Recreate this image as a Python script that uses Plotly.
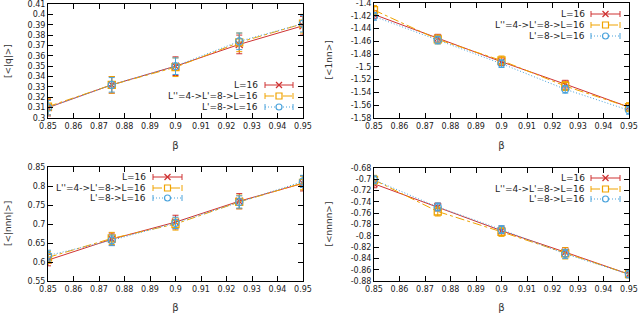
import plotly.graph_objects as go

# ---------------- data ----------------
beta = [0.85, 0.875, 0.9, 0.925, 0.95]
series_names = ["L=16", "L''=4->L'=8->L=16", "L'=8->L=16"]

q_L16 = [0.310, 0.332, 0.350, 0.371, 0.389]
q_L16_err = [0.008, 0.008, 0.009, 0.009, 0.009]
q_L4 = [0.311, 0.332, 0.349, 0.373, 0.391]
q_L4_err = [0.008, 0.008, 0.009, 0.009, 0.009]
q_L8 = [0.310, 0.332, 0.350, 0.374, 0.391]
q_L8_err = [0.007, 0.007, 0.008, 0.008, 0.008]

nn1_L16 = [-1.418, -1.455, -1.492, -1.527, -1.563]
nn1_L16_err = [0.006, 0.006, 0.006, 0.006, 0.006]
nn1_L4 = [-1.411, -1.457, -1.490, -1.530, -1.563]
nn1_L4_err = [0.007, 0.007, 0.007, 0.007, 0.007]
nn1_L8 = [-1.421, -1.458, -1.495, -1.535, -1.568]
nn1_L8_err = [0.006, 0.006, 0.006, 0.006, 0.006]

nnn_L16 = [0.605, 0.660, 0.705, 0.760, 0.807]
nnn_L16_err = [0.015, 0.016, 0.018, 0.020, 0.020]
nnn_L4 = [0.612, 0.662, 0.700, 0.758, 0.808]
nnn_L4_err = [0.016, 0.016, 0.016, 0.018, 0.018]
nnn_L8 = [0.617, 0.657, 0.703, 0.758, 0.812]
nnn_L8_err = [0.014, 0.014, 0.015, 0.016, 0.016]

nnnn_L16 = [-0.708, -0.749, -0.791, -0.829, -0.868]
nnnn_L16_err = [0.007, 0.007, 0.008, 0.008, 0.006]
nnnn_L4 = [-0.701, -0.757, -0.793, -0.831, -0.868]
nnnn_L4_err = [0.008, 0.008, 0.008, 0.010, 0.006]
nnnn_L8 = [-0.701, -0.749, -0.789, -0.832, -0.868]
nnnn_L8_err = [0.007, 0.007, 0.007, 0.008, 0.006]

x_ticks = [0.85, 0.86, 0.87, 0.88, 0.89, 0.9, 0.91, 0.92, 0.93, 0.94, 0.95]
x_ticklabels = ["0.85", "0.86", "0.87", "0.88", "0.89", "0.9", "0.91", "0.92", "0.93", "0.94", "0.95"]

q_ticks = [0.3, 0.31, 0.32, 0.33, 0.34, 0.35, 0.36, 0.37, 0.38, 0.39, 0.4, 0.41]
q_ticklabels = ["0.3", "0.31", "0.32", "0.33", "0.34", "0.35", "0.36", "0.37", "0.38", "0.39", "0.4", "0.41"]
nn1_ticks = [-1.58, -1.56, -1.54, -1.52, -1.5, -1.48, -1.46, -1.44, -1.42, -1.4]
nn1_ticklabels = ["-1.58", "-1.56", "-1.54", "-1.52", "-1.5", "-1.48", "-1.46", "-1.44", "-1.42", "-1.4"]
nnn_ticks = [0.55, 0.6, 0.65, 0.7, 0.75, 0.8, 0.85]
nnn_ticklabels = ["0.55", "0.6", "0.65", "0.7", "0.75", "0.8", "0.85"]
nnnn_ticks = [-0.88, -0.86, -0.84, -0.82, -0.8, -0.78, -0.76, -0.74, -0.72, -0.7, -0.68]
nnnn_ticklabels = ["-0.88", "-0.86", "-0.84", "-0.82", "-0.8", "-0.78", "-0.76", "-0.74", "-0.72", "-0.7", "-0.68"]

y_titles = ["[<|q|>]", "[<1nn>]", "[<|nnn|>]", "[<nnnn>]"]
x_title = "β"

# ---------------- styles ----------------
W, H = 640, 313
colors = ["#cf3232", "#f0a300", "#4aa3dc"]
dashes = ["solid", "dashdot", "1px,2px"]
symbols = ["x-thin-open", "square-open", "circle-open"]
FONT = "DejaVu Sans"
TXT = "#222222"
EPS = 1e-6

panels = [
    dict(vals=[q_L16, q_L4, q_L8], errs=[q_L16_err, q_L4_err, q_L8_err],
         ticks=q_ticks, labels=q_ticklabels, rng=[0.3, 0.41],
         px=(48, 303), py=(4, 118), ytx=8),
    dict(vals=[nn1_L16, nn1_L4, nn1_L8], errs=[nn1_L16_err, nn1_L4_err, nn1_L8_err],
         ticks=nn1_ticks, labels=nn1_ticklabels, rng=[-1.58, -1.4],
         px=(374, 629), py=(3, 118), ytx=328),
    dict(vals=[nnn_L16, nnn_L4, nnn_L8], errs=[nnn_L16_err, nnn_L4_err, nnn_L8_err],
         ticks=nnn_ticks, labels=nnn_ticklabels, rng=[0.55, 0.85],
         px=(48, 303), py=(167, 281), ytx=8),
    dict(vals=[nnnn_L16, nnnn_L4, nnnn_L8], errs=[nnnn_L16_err, nnnn_L4_err, nnnn_L8_err],
         ticks=nnnn_ticks, labels=nnnn_ticklabels, rng=[-0.88, -0.68],
         px=(374, 629), py=(168, 281), ytx=328),
]

# legend placement (pixels): text right edge, sample x0, x1, row y's
legend_pos = [
    dict(tx=260, sx=(265, 293), rows=(85, 96, 107)),
    dict(tx=587, sx=(591, 620), rows=(14, 25, 36)),
    dict(tx=148, sx=(153, 182), rows=(177, 188, 198)),
    dict(tx=587, sx=(591, 620), rows=(178, 189, 199)),
]

def px2x(p):
    return p / W

def px2y(p):
    return 1 - p / H

fig = go.Figure()
layout = dict(width=W, height=H, margin=dict(l=0, r=0, t=0, b=0, autoexpand=False),
              paper_bgcolor="white", plot_bgcolor="white", showlegend=False,
              font=dict(family=FONT, size=8, color=TXT))
shapes = []
annotations = []

for i, p in enumerate(panels):
    xa = "x" if i == 0 else f"x{i+1}"
    ya = "y" if i == 0 else f"y{i+1}"
    xkey = "xaxis" if i == 0 else f"xaxis{i+1}"
    ykey = "yaxis" if i == 0 else f"yaxis{i+1}"
    for s in range(3):
        fig.add_trace(go.Scatter(
            x=beta, y=p["vals"][s], mode="lines+markers", name=series_names[s],
            xaxis=xa, yaxis=ya,
            line=dict(color=colors[s], width=1, dash=dashes[s]),
            marker=dict(symbol=symbols[s], size=7,
                        line=dict(color=colors[s], width=1.3)),
            error_y=dict(type="data", array=p["errs"][s], color=colors[s],
                         thickness=1, width=3),
        ))
    layout[xkey] = dict(domain=[px2x(p["px"][0]), px2x(p["px"][1])],
                        anchor=ya, range=[0.85 - EPS, 0.95 + EPS], automargin=False,
                        tickvals=x_ticks, ticktext=x_ticklabels,
                        ticklabeloverflow="allow",
                        ticks="inside", ticklen=5, tickcolor="black",
                        showline=True, linecolor="black", linewidth=1,
                        mirror="ticks", showgrid=False, zeroline=False,
                        title=dict(text=x_title, standoff=12,
                                   font=dict(size=10, color="#333")))
    layout[ykey] = dict(domain=[px2y(p["py"][1]), px2y(p["py"][0])],
                        anchor=xa, range=[p["rng"][0] - EPS, p["rng"][1] + EPS],
                        automargin=False,
                        tickvals=p["ticks"], ticktext=p["labels"],
                        ticklabeloverflow="allow",
                        ticks="inside", ticklen=5, tickcolor="black",
                        showline=True, linecolor="black", linewidth=1,
                        mirror="ticks", showgrid=False, zeroline=False)
    # y-axis title
    annotations.append(dict(x=px2x(p["ytx"]), y=px2y((p["py"][0] + p["py"][1]) / 2),
                            xref="paper", yref="paper", text=y_titles[i],
                            textangle=-90, showarrow=False,
                            xanchor="center", yanchor="middle",
                            font=dict(size=9, color="#333")))

    # legend drawn gnuplot-style: text then sample to its right
    lp = legend_pos[i]
    for s in range(3):
        yy = lp["rows"][s]
        annotations.append(dict(x=px2x(lp["tx"]), y=px2y(yy), xref="paper", yref="paper",
                                text=series_names[s], showarrow=False,
                                xanchor="right", yanchor="middle",
                                font=dict(size=9, color=TXT)))
        x0, x1 = lp["sx"]
        xm = (x0 + x1) / 2
        shapes.append(dict(type="line", xref="paper", yref="paper",
                           x0=px2x(x0), x1=px2x(x1), y0=px2y(yy), y1=px2y(yy),
                           line=dict(color=colors[s], width=1, dash=dashes[s])))
        for xe in (x0, x1):
            shapes.append(dict(type="line", xref="paper", yref="paper",
                               x0=px2x(xe), x1=px2x(xe), y0=px2y(yy - 3), y1=px2y(yy + 3),
                               line=dict(color=colors[s], width=1)))
        r = 3
        if s == 0:
            for sgn in (1, -1):
                shapes.append(dict(type="line", xref="paper", yref="paper",
                                   x0=px2x(xm - r), x1=px2x(xm + r),
                                   y0=px2y(yy - sgn * r), y1=px2y(yy + sgn * r),
                                   line=dict(color=colors[s], width=1.2)))
        else:
            shapes.append(dict(type="rect" if s == 1 else "circle",
                               xref="paper", yref="paper",
                               x0=px2x(xm - r), x1=px2x(xm + r),
                               y0=px2y(yy - r), y1=px2y(yy + r),
                               fillcolor="white",
                               line=dict(color=colors[s], width=1.2)))

layout["shapes"] = shapes
layout["annotations"] = annotations
fig.update_layout(**layout)
fig.write_html("out.html", config={"displayModeBar": False},
               post_script="document.body.style.margin='0';document.body.style.overflow='hidden';")
